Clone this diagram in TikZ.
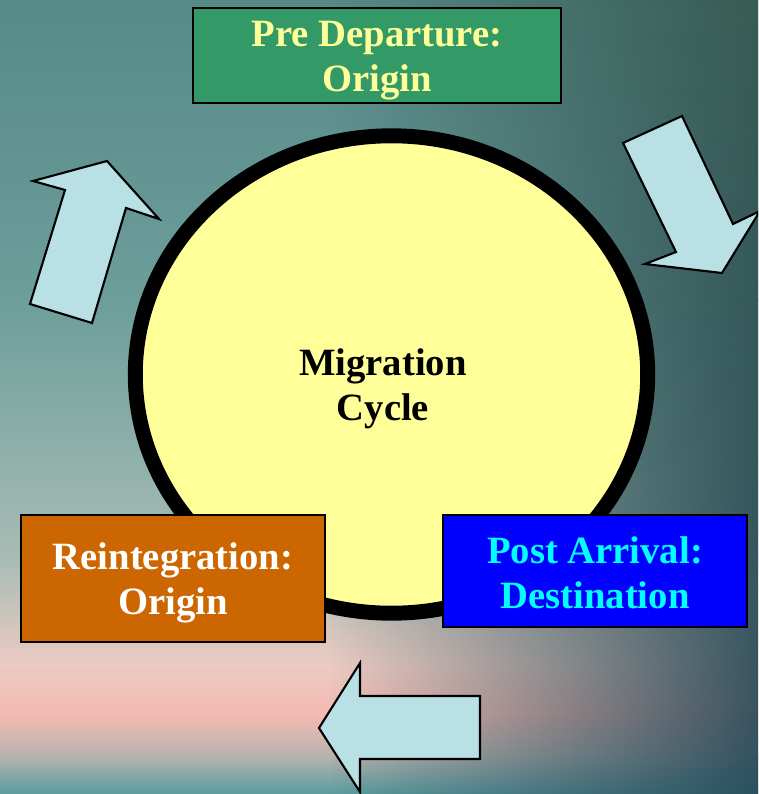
\documentclass[tikz,border=0pt]{standalone}
\usepackage{fontspec}
\setmainfont{Liberation Serif}
\usepackage{tikz}
\usetikzlibrary{shapes.geometric,fadings}

\definecolor{bgtop}{HTML}{568A88}
\definecolor{bgmid}{HTML}{6C9E9A}
\definecolor{bglow}{HTML}{A8BCB5}
\definecolor{bgrose}{HTML}{EBCBC2}
\definecolor{bgpink}{HTML}{F5BAB2}
\definecolor{bggrey}{HTML}{B4B2AE}
\definecolor{bgfoot}{HTML}{5A9CA0}
\definecolor{darktop}{HTML}{36574F}
\definecolor{darkbot}{HTML}{27495A}
\definecolor{paleyellow}{HTML}{FFFF99}
\definecolor{boxgreen}{HTML}{339966}
\definecolor{boxorange}{HTML}{CC6600}
\definecolor{boxblue}{RGB}{0,0,255}
\definecolor{textcyan}{RGB}{0,255,255}
\definecolor{arrowblue}{HTML}{B9E0E4}

\tikzfading[name=fade right, left color=transparent!100, right color=transparent!8]

\begin{document}
\begin{tikzpicture}[x=0.02cm, y=-0.02cm,
    stage/.style={rectangle, draw=black, line width=1.5pt, inner sep=0pt,
      minimum width=6.08cm},
    caption/.style={align=center, inner sep=0pt,
      font=\fontsize{22}{25.5}\selectfont\bfseries},
    turn/.style={fill=arrowblue, draw=black, line width=1.2pt, line join=miter}]
      \useasboundingbox (0,0) rectangle (758,794);
      \clip (0,0) rectangle (758,794);

      % Background
      \fill[top color=bgtop, bottom color=bgmid] (0,0) rectangle (758,300);
      \fill[top color=bgmid, bottom color=bglow] (0,299) rectangle (758,560);
      \fill[top color=bglow, bottom color=bgrose] (0,559) rectangle (758,665);
      \fill[top color=bgrose, bottom color=bgpink] (0,664) rectangle (758,715);
      \fill[top color=bgpink, bottom color=bggrey] (0,714) rectangle (758,758);
      \fill[top color=bggrey, bottom color=bgfoot] (0,757) rectangle (758,794);
      \shade[top color=darktop, bottom color=darkbot, path fading=fade right]
        (330,0) rectangle (758,794);

      % Arrows
      \draw[turn] (623,143) -- (682,116) -- (733,224) -- (760,211) -- (722,273)
        -- (645,264) -- (676,252) -- cycle;
      \draw[turn] (319,728) -- (360,663) -- (360,696) -- (480,696) -- (480,759)
        -- (360,759) -- (360,792) -- cycle;
      \draw[turn] (30,304) -- (92,323) -- (126,208) -- (159,219) -- (107,161)
        -- (33,181) -- (65,190) -- cycle;

      % Nodes
      \node (cycle) at (391.5,374.5) [ellipse, draw=black, fill=paleyellow,
        line width=8.5pt, minimum width=10.25cm, minimum height=9.55cm] {};
      \node (cyclelbl) at (383,389) [caption] {Migration\\Cycle};

      \node (pre) at (377,55.5) [stage, fill=boxgreen,
        minimum width=7.36cm, minimum height=1.9cm] {};
      \node (prelbl) at (377,61) [caption, text=paleyellow] {Pre Departure:\\Origin};

      \node (reint) at (173,578.5) [stage, fill=boxorange, minimum height=2.54cm] {};
      \node (reintlbl) at (173,583) [caption, text=white] {Reintegration:\\Origin};

      \node (post) at (595,571) [stage, fill=boxblue, minimum height=2.24cm] {};
      \node (postlbl) at (595,572.5) [caption, text=textcyan] {Post Arrival:\\Destination};

    \end{tikzpicture}
\end{document}
